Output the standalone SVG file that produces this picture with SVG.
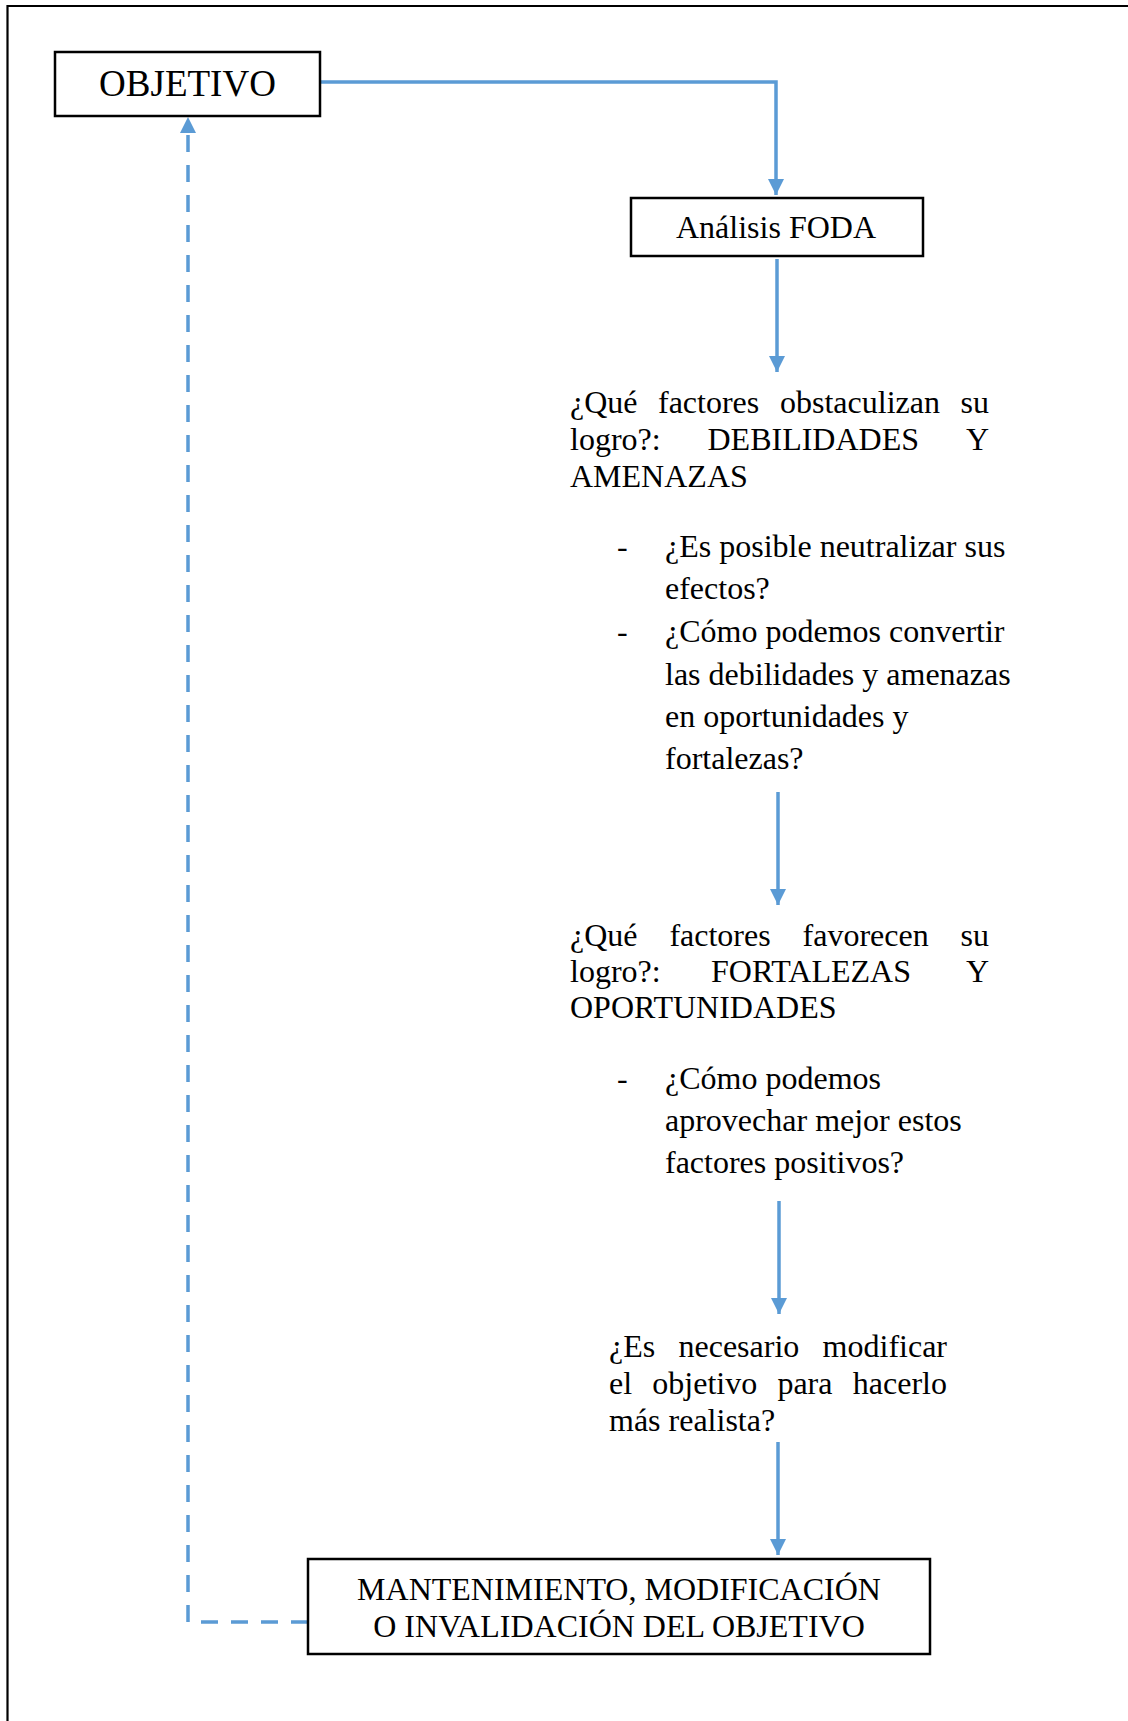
<svg xmlns="http://www.w3.org/2000/svg" width="1128" height="1721" viewBox="0 0 1128 1721">
  <style>
    text { font-family: "Liberation Serif", "Times New Roman", serif; fill: #000; }
    .t { font-size: 32px; }
    .mid { text-anchor: middle; }
    .end { text-anchor: end; }
    .box { fill: #fff; stroke: #000; stroke-width: 2.5; }
    .flow { fill: none; stroke: #5B9BD5; stroke-width: 3.5; }
    .dash { stroke-dasharray: 17 13; }
  </style>
  <defs>
    <marker id="arrow" viewBox="0 0 16 16" refX="16" refY="8" markerWidth="16" markerHeight="16" markerUnits="userSpaceOnUse" orient="auto">
      <path d="M0,0 L16,8 L0,16 Z" fill="#5B9BD5"/>
    </marker>
  </defs>

  <rect width="1128" height="1721" fill="#fff"/>

  <!-- page frame (only top and left edges fall inside the page) -->
  <path d="M7.5,1721 L7.5,6 L1128,6" fill="none" stroke="#000" stroke-width="2.2"/>

  <!-- connectors -->
  <g id="connectors">
    <path class="flow" d="M320,82 L776,82 L776,195" marker-end="url(#arrow)"/>
    <path class="flow" d="M777,259 L777,372" marker-end="url(#arrow)"/>
    <path class="flow" d="M778,792 L778,905" marker-end="url(#arrow)"/>
    <path class="flow" d="M779,1201 L779,1314" marker-end="url(#arrow)"/>
    <path class="flow" d="M778,1442 L778,1555" marker-end="url(#arrow)"/>
    <!-- feedback loop back to the objective -->
    <path class="flow dash" d="M308,1622 L188,1622 L188,133"/>
    <path d="M180,133 L188,117 L196,133 Z" fill="#5B9BD5"/>
  </g>

  <g id="objetivo">
    <rect class="box" x="55" y="52" width="265" height="64"/>
    <text class="mid" x="187.5" y="96" font-size="37">OBJETIVO</text>
  </g>

  <g id="foda">
    <rect class="box" x="631" y="198" width="292" height="58"/>
    <text class="t mid" x="776" y="238">Análisis FODA</text>
  </g>

  <g id="debilidades">
    <text class="t" x="570" y="413">¿Qué</text>
    <text class="t" x="658" y="413">factores</text>
    <text class="t" x="780" y="413">obstaculizan</text>
    <text class="t end" x="989" y="413">su</text>
    <text class="t" x="570" y="450">logro?:</text>
    <text class="t" x="707.5" y="450">DEBILIDADES</text>
    <text class="t end" x="989" y="450">Y</text>
    <text class="t" x="570" y="487">AMENAZAS</text>

    <text class="t" x="617" y="557">-</text>
    <text class="t" x="665" y="557">¿Es posible neutralizar sus</text>
    <text class="t" x="665" y="599">efectos?</text>
    <text class="t" x="617" y="642">-</text>
    <text class="t" x="665" y="642">¿Cómo podemos convertir</text>
    <text class="t" x="665" y="685">las debilidades y amenazas</text>
    <text class="t" x="665" y="727">en oportunidades y</text>
    <text class="t" x="665" y="769">fortalezas?</text>
  </g>

  <g id="fortalezas">
    <text class="t" x="570" y="946">¿Qué</text>
    <text class="t" x="669.4" y="946">factores</text>
    <text class="t" x="802.6" y="946">favorecen</text>
    <text class="t end" x="989" y="946">su</text>
    <text class="t" x="570" y="982">logro?:</text>
    <text class="t" x="711" y="982">FORTALEZAS</text>
    <text class="t end" x="989" y="982">Y</text>
    <text class="t" x="570" y="1018">OPORTUNIDADES</text>

    <text class="t" x="617" y="1089">-</text>
    <text class="t" x="665" y="1089">¿Cómo podemos</text>
    <text class="t" x="665" y="1131">aprovechar mejor estos</text>
    <text class="t" x="665" y="1173">factores positivos?</text>
  </g>

  <g id="modificar">
    <text class="t" x="609" y="1357">¿Es</text>
    <text class="t" x="678.5" y="1357">necesario</text>
    <text class="t end" x="947" y="1357">modificar</text>
    <text class="t" x="609" y="1394">el</text>
    <text class="t" x="652.3" y="1394">objetivo</text>
    <text class="t" x="777.4" y="1394">para</text>
    <text class="t end" x="947" y="1394">hacerlo</text>
    <text class="t" x="609" y="1431">más realista?</text>
  </g>

  <g id="resultado">
    <rect class="box" x="308" y="1559" width="622" height="95"/>
    <text class="t mid" x="619" y="1600">MANTENIMIENTO, MODIFICACIÓN</text>
    <text class="t mid" x="619" y="1637">O INVALIDACIÓN DEL OBJETIVO</text>
  </g>
</svg>
